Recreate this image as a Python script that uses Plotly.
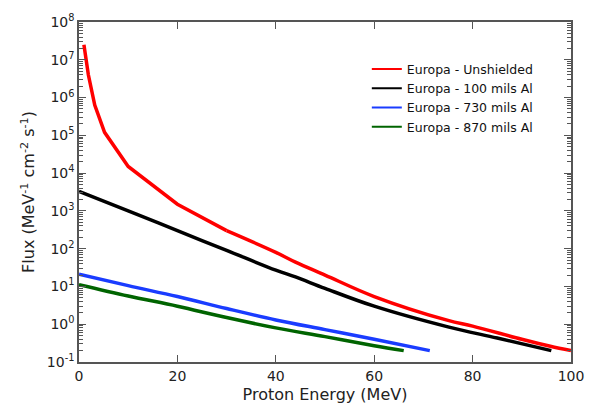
import plotly.graph_objects as go

# Data (Proton energy in MeV, flux in MeV^-1 cm^-2 s^-1)
red_x = [1.0, 1.9, 3.2, 5.2, 10, 20, 30, 40, 44, 50, 60, 75, 80, 90, 95.8, 100]
red_y = [2.5e7, 4.0e6, 6.3e5, 1.2e5, 1.5e4, 1500, 300, 80, 44, 20, 5.4, 1.26, 0.89, 0.40, 0.26, 0.20]

black_x = [0, 10, 20, 30, 40, 44, 50, 60, 75, 85, 96]
black_y = [3300, 1000, 300, 90, 27, 17.8, 8.9, 3.0, 0.85, 0.43, 0.20]

blue_x = [0, 10, 20, 30, 40, 50, 60, 71.3]
blue_y = [21, 10.5, 5.4, 2.6, 1.3, 0.72, 0.40, 0.20]

green_x = [0, 10, 20, 30, 40, 50, 60, 66]
green_y = [11.2, 5.6, 3.0, 1.5, 0.80, 0.47, 0.27, 0.20]

names = ["Europa - Unshielded", "Europa - 100 mils Al", "Europa - 730 mils Al", "Europa - 870 mils Al"]
colors = ["#ff0000", "#000000", "#1a3cff", "#006400"]

y_exps = list(range(-1, 9))
y_tickvals = [10.0 ** e for e in y_exps]
y_ticktext = ["10<sup>%d</sup>" % e for e in y_exps]
y_minor = [m * 10.0 ** e for e in range(-1, 8) for m in range(2, 10)]

FONT = "DejaVu Sans"

fig = go.Figure()
# Unshielded: piecewise below 30 MeV (visible corners), smooth tail above
split = red_x.index(30)
fig.add_trace(go.Scatter(x=red_x[:split + 1], y=red_y[:split + 1], mode="lines", showlegend=False,
                         line=dict(color=colors[0], width=3.5)))
fig.add_trace(go.Scatter(x=red_x[split:], y=red_y[split:], mode="lines", showlegend=False,
                         line=dict(color=colors[0], width=3.5, shape="spline", smoothing=1.0)))
for xs, ys, c in zip([black_x, blue_x, green_x], [black_y, blue_y, green_y], colors[1:]):
    fig.add_trace(go.Scatter(x=xs, y=ys, mode="lines", showlegend=False,
                             line=dict(color=c, width=3.5, shape="spline", smoothing=1.0)))
# legend entries with thinner lines
for nm, c in zip(names, colors):
    fig.add_trace(go.Scatter(x=[None], y=[None], mode="lines", name=nm,
                             line=dict(color=c, width=2)))

axis_col = "#555555"
fig.update_layout(
    width=596, height=413,
    margin=dict(l=79, r=14, t=19, b=50),
    paper_bgcolor="white", plot_bgcolor="white",
    font=dict(family=FONT, color="#222222"),
    legend=dict(x=0.585, y=0.905, xanchor="left", yanchor="top",
                font=dict(size=12.5, family=FONT, color="#111111"),
                bgcolor="rgba(0,0,0,0)", tracegroupgap=0),
)
fig.update_xaxes(
    range=[0, 100], tick0=0, dtick=20,
    showgrid=False, zeroline=False,
    showline=True, linecolor=axis_col, linewidth=1.5, mirror="allticks",
    ticks="inside", ticklen=7, tickcolor=axis_col, tickwidth=1,
    tickfont=dict(size=14, family=FONT, color="#222222"),
    title=dict(text="Proton Energy (MeV)", font=dict(size=16, family=FONT, color="#222222"), standoff=6),
)
fig.update_yaxes(
    type="log", range=[-1, 8],
    tickmode="array", tickvals=y_tickvals, ticktext=y_ticktext,
    showgrid=False, zeroline=False,
    showline=True, linecolor=axis_col, linewidth=1.5, mirror="allticks",
    ticks="inside", ticklen=7, tickcolor=axis_col, tickwidth=1,
    minor=dict(tickmode="array", tickvals=y_minor, ticks="inside", ticklen=4,
               tickcolor=axis_col, tickwidth=1, showgrid=False),
    tickfont=dict(size=14, family=FONT, color="#222222"),
    title=dict(text="Flux (MeV<sup>-1</sup> cm<sup>-2</sup> s<sup>-1</sup>)",
               font=dict(size=16, family=FONT, color="#222222"), standoff=8),
)

fig.write_html("out.html")
